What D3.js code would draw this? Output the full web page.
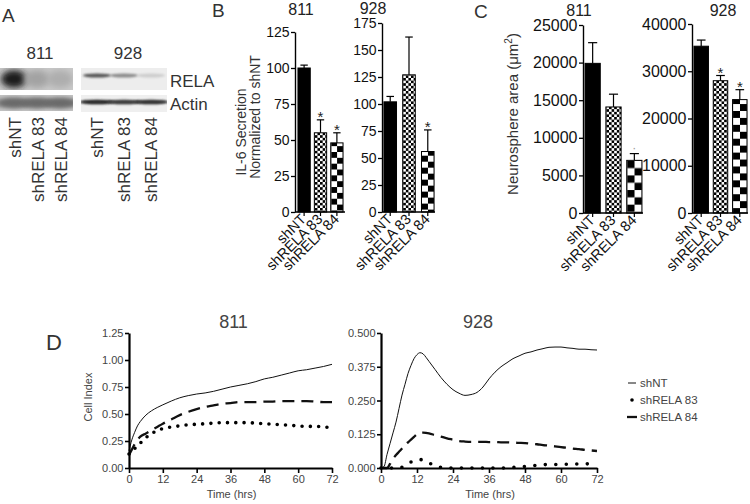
<!DOCTYPE html>
<html><head><meta charset="utf-8">
<script src="https://cdn.jsdelivr.net/npm/d3@7"></script>
<style>body{margin:0;background:#fff}svg{display:block}</style>
</head><body>
<svg id="c" width="750" height="504"></svg>
<script>
// ---------------- DATA ----------------
const categories = ["shNT", "shRELA 83", "shRELA 84"];
const cellLines = ["811", "928"];

// Panel A (western blot band intensities, relative)
const relaBand811 = [1.0, 0.22, 0.16];
const actinBand811 = [1.0, 1.0, 1.0];
const relaBand928 = [0.85, 0.55, 0.18];
const actinBand928 = [1.0, 0.9, 0.95];

// Panel B: IL-6 secretion normalized to shNT
const il6_811 = [100, 55, 48];
const il6_811_err = [2, 9, 7];
const il6_811_sig = ["", "*", "*"];
const il6_928 = [102, 127, 56];
const il6_928_err = [5, 35, 20];
const il6_928_sig = ["", "", "*"];
const il6_811_ticks = [0, 25, 50, 75, 100, 125];
const il6_928_ticks = [0, 25, 50, 75, 100, 125, 150, 175];

// Panel C: neurosphere area (um^2)
const area_811 = [19900, 14100, 7000];
const area_811_err = [2750, 1700, 900];
const area_811_sig = ["", "", "·"];
const area_928 = [35300, 28000, 24000];
const area_928_err = [1300, 1100, 2100];
const area_928_sig = ["", "*", "*"];
const area_811_ticks = [0, 5000, 10000, 15000, 20000, 25000];
const area_928_ticks = [0, 10000, 20000, 30000, 40000];

// Panel D: cell index over time
const timeTicks = [0, 12, 24, 36, 48, 60, 72];
const ci811_ticks = [0, 0.25, 0.5, 0.75, 1.0, 1.25];
const ci928_ticks = [0, 0.125, 0.25, 0.375, 0.5];
const t811 = [0,1,2,3,4,6,8,10,12,15,18,21,24,27,30,33,36,39,42,45,48,51,54,57,60,63,66,69,72];
const ci811_shNT = [0.16,0.26,0.33,0.39,0.43,0.49,0.53,0.56,0.585,0.62,0.65,0.67,0.685,0.695,0.71,0.73,0.75,0.765,0.78,0.80,0.825,0.84,0.86,0.88,0.90,0.91,0.925,0.94,0.96];
const ci811_sh83 = [0.13,0.16,0.18,0.2,0.23,0.28,0.32,0.345,0.365,0.38,0.39,0.40,0.405,0.41,0.415,0.42,0.42,0.42,0.42,0.415,0.41,0.405,0.40,0.395,0.39,0.385,0.385,0.38,0.375];
const ci811_sh84 = [0.12,0.17,0.22,0.26,0.29,0.32,0.35,0.38,0.41,0.45,0.49,0.52,0.545,0.565,0.58,0.595,0.60,0.61,0.61,0.61,0.615,0.615,0.62,0.62,0.62,0.62,0.615,0.61,0.61];
const t928 = [0,1,2,3,4,5,6,7,8,9,10,11,12,13,14,15,16,18,20,22,24,26,28,30,32,34,36,38,40,42,44,46,48,50,52,54,56,58,60,62,64,66,68,70,72];
const ci928_shNT = [0,0.005,0.05,0.09,0.13,0.17,0.22,0.27,0.31,0.35,0.38,0.405,0.42,0.427,0.423,0.41,0.395,0.365,0.335,0.31,0.29,0.277,0.269,0.272,0.28,0.30,0.33,0.355,0.375,0.39,0.405,0.415,0.425,0.43,0.437,0.442,0.447,0.448,0.448,0.445,0.443,0.44,0.44,0.438,0.437];
const ci928_sh83 = [0,0,0,0,0,0,0,0.003,0.008,0.015,0.022,0.027,0.03,0.031,0.03,0.025,0.019,0.008,0.002,0,0,0,0,0,0,0,0,0,0,0,0.002,0.004,0.006,0.008,0.01,0.012,0.013,0.013,0.013,0.014,0.015,0.015,0.015,0.016,0.016];
const ci928_sh84 = [0,0,0,0.015,0.035,0.048,0.06,0.072,0.085,0.095,0.105,0.115,0.125,0.13,0.131,0.13,0.128,0.122,0.116,0.11,0.105,0.1,0.098,0.097,0.097,0.097,0.096,0.096,0.095,0.095,0.094,0.093,0.092,0.09,0.088,0.085,0.083,0.08,0.077,0.075,0.072,0.07,0.067,0.065,0.063];

// ---------------- DRAW ----------------
const F = '"Liberation Sans", Arial, Helvetica, sans-serif';
const svg = d3.select("#c").attr("font-family", F);
const defs = svg.append("defs");

function blurFilter(id, sd) {
  defs.append("filter").attr("id", id).attr("x", "-60%").attr("y", "-60%").attr("width", "220%").attr("height", "220%")
    .append("feGaussianBlur").attr("stdDeviation", sd);
}
blurFilter("b3", 3); blurFilter("b25", 2.3); blurFilter("b1", 1.1); blurFilter("b07", 0.8);

function label(x, y, txt, size, opts = {}) {
  return svg.append("text").attr("x", x).attr("y", y).attr("font-size", size)
    .attr("text-anchor", opts.anchor || "start").attr("fill", opts.fill || "#111").text(txt);
}

// ---- Panel A ----
label(2, 22, "A", 19, {fill: "#333"});
label(40, 59, cellLines[0], 17, {anchor: "middle", fill: "#333"});
label(128, 59, cellLines[1], 17, {anchor: "middle", fill: "#333"});
const lanes811 = d3.scalePoint().domain(categories).range([14, 60]);
const lanes928 = d3.scalePoint().domain(categories).range([97, 151]);

function blot(id, x0, x1, y0, y1, bg, lanes, vals, darkColor, cy, rx, ry, filt, connect) {
  const cp = defs.append("clipPath").attr("id", id);
  cp.append("rect").attr("x", x0).attr("y", y0).attr("width", x1 - x0).attr("height", y1 - y0);
  const g = svg.append("g").attr("clip-path", `url(#${id})`);
  g.append("rect").attr("x", x0).attr("y", y0).attr("width", x1 - x0).attr("height", y1 - y0).attr("fill", bg);
  if (connect) {
    g.append("rect").attr("x", x0 - 5).attr("y", cy - connect.h / 2).attr("width", x1 - x0 + 10).attr("height", connect.h)
      .attr("fill", connect.c).attr("filter", `url(#${filt})`);
  }
  const ci = d3.interpolateRgb(bg, darkColor);
  categories.forEach((c, i) => {
    g.append("ellipse").attr("cx", lanes(c)).attr("cy", cy).attr("rx", rx).attr("ry", ry)
      .attr("fill", ci(vals[i])).attr("filter", `url(#${filt})`);
  });
}
blot("ra", 0, 73, 68, 90, "#c9c9c9", lanes811, relaBand811, "#1e1e1e", 79, 13, 9, "b3");
blot("aa", 0, 73, 95, 111, "#c4c4c4", lanes811, actinBand811, "#6a6a6a", 103, 15, 5, "b25", {h: 7, c: "#8a8a8a"});
blot("rb", 81, 167, 68, 90, "#ededed", lanes928, relaBand928, "#3a3a3a", 75.5, 14, 2, "b1");
blot("ab", 81, 167, 95, 112, "#efefef", lanes928, actinBand928, "#2a2a2a", 102, 16, 2.3, "b07", {h: 2, c: "#777"});
label(170, 87, "RELA", 17, {fill: "#333"});
label(170, 110, "Actin", 17, {fill: "#333"});
categories.forEach(c => {
  svg.append("text").attr("transform", `translate(${lanes811(c) + 7},117) rotate(-90)`)
    .attr("text-anchor", "end").attr("font-size", 17).attr("fill", "#333").text(c);
  svg.append("text").attr("transform", `translate(${lanes928(c) + 6},117) rotate(-90)`)
    .attr("text-anchor", "end").attr("font-size", 17).attr("fill", "#333").text(c);
});

// ---- Bar panels (B, C) ----
let patCount = 0;
function checker(x, size) {
  const id = "p" + (patCount++);
  const p = defs.append("pattern").attr("id", id).attr("patternUnits", "userSpaceOnUse")
    .attr("x", x).attr("y", 0).attr("width", size * 2).attr("height", size * 2);
  p.append("rect").attr("width", size * 2).attr("height", size * 2).attr("fill", "#fff");
  p.append("rect").attr("width", size).attr("height", size).attr("fill", "#000");
  p.append("rect").attr("x", size).attr("y", size).attr("width", size).attr("height", size).attr("fill", "#000");
  return `url(#${id})`;
}

function barPanel(o) {
  const g = svg.append("g");
  const y = d3.scaleLinear().domain([0, o.max]).range([o.yb, o.yt]);
  const x = d3.scaleBand().domain(categories).range([o.x0 + 1, o.x1]).paddingInner(o.pi).paddingOuter(o.po);
  const bw = x.bandwidth();
  categories.forEach((c, i) => {
    const bx = x(c), v = o.vals[i], e = o.errs[i];
    const fill = i === 0 ? "#000" : (i === 1 ? checker(bx + 0.5, 2.6) : checker(bx + 0.5, bw / 2 - 0.3));
    const cx = bx + bw / 2;
    // error bar (upper)
    g.append("line").attr("x1", cx).attr("x2", cx).attr("y1", y(v)).attr("y2", y(v + e)).attr("stroke", "#000").attr("stroke-width", 1.2);
    g.append("line").attr("x1", cx - bw * 0.3).attr("x2", cx + bw * 0.3).attr("y1", y(v + e)).attr("y2", y(v + e)).attr("stroke", "#000").attr("stroke-width", 1.2);
    g.append("rect").attr("x", bx).attr("y", y(v)).attr("width", bw).attr("height", o.yb - y(v))
      .attr("fill", fill).attr("stroke", "#000").attr("stroke-width", 1);
    if (o.sig[i] === "*") {
      g.append("text").attr("x", cx).attr("y", y(v + e) + 2).attr("text-anchor", "middle")
        .attr("font-size", 15).attr("fill", "#222").text(o.sig[i]);
    } else if (o.sig[i]) {
      g.append("text").attr("x", cx).attr("y", y(v + e) - 2).attr("text-anchor", "middle")
        .attr("font-size", 12).attr("fill", "#999").text(o.sig[i]);
    }
    // x tick + label
    g.append("line").attr("x1", cx).attr("x2", cx).attr("y1", o.yb).attr("y2", o.yb + 4).attr("stroke", "#000").attr("stroke-width", 1.2);
    g.append("text").attr("transform", `translate(${cx + o.lx},${o.yb + o.ly}) rotate(-45)`)
      .attr("text-anchor", "end").attr("font-size", o.lfs).attr("fill", "#111").text(c);
  });
  // x axis line
  g.append("line").attr("x1", o.x0).attr("x2", o.x1).attr("y1", o.yb).attr("y2", o.yb).attr("stroke", "#000").attr("stroke-width", 1.4);
  // y axis
  const ax = g.append("g").attr("transform", `translate(${o.x0},0)`)
    .call(d3.axisLeft(y).tickValues(o.ticks).tickFormat(d3.format("d")).tickSize(4).tickSizeOuter(0).tickPadding(1.5));
  ax.attr("font-family", F).attr("font-size", o.fs);
  ax.select(".domain").attr("stroke-width", 1.4);
  ax.selectAll(".tick line").attr("stroke-width", 1.3);
  ax.selectAll(".tick text").attr("fill", "#111");
  label(o.tx, o.ty, o.title, 16, {anchor: "middle", fill: "#222"});
}

// Panel B
label(212, 17, "B", 19, {fill: "#333"});
svg.append("text").attr("transform", "translate(246,132) rotate(-90)").attr("text-anchor", "middle").attr("font-size", 14).attr("fill", "#333").text("IL-6 Secretion");
svg.append("text").attr("transform", "translate(260,117) rotate(-90)").attr("text-anchor", "middle").attr("font-size", 14).attr("fill", "#333").text("Normalized to shNT");
barPanel({vals: il6_811, errs: il6_811_err, sig: il6_811_sig, ticks: il6_811_ticks, max: 125,
  x0: 295, x1: 345, yt: 32, yb: 212, pi: 0.25, po: 0.12, fs: 14, lfs: 14.5, lx: 3, ly: 8,
  title: cellLines[0], tx: 301, ty: 15});
barPanel({vals: il6_928, errs: il6_928_err, sig: il6_928_sig, ticks: il6_928_ticks, max: 175,
  x0: 382, x1: 435, yt: 23, yb: 212, pi: 0.33, po: 0.05, fs: 14, lfs: 14.5, lx: 3, ly: 8,
  title: cellLines[1], tx: 373, ty: 14});

// Panel C
label(474, 18, "C", 19, {fill: "#333"});
const yl = svg.append("text").attr("transform", "translate(518,114) rotate(-90)").attr("text-anchor", "middle").attr("font-size", 15).attr("fill", "#333");
yl.append("tspan").text("Neurosphere area (\u03bcm");
yl.append("tspan").attr("font-size", 10).attr("dy", -6).text("2");
yl.append("tspan").attr("dy", 6).text(")");
barPanel({vals: area_811, errs: area_811_err, sig: area_811_sig, ticks: area_811_ticks, max: 25000,
  x0: 583, x1: 643, yt: 25, yb: 213, pi: 0.27, po: 0.05, fs: 16, lfs: 14.5, lx: 3, ly: 8,
  title: cellLines[0], tx: 579, ty: 16});
barPanel({vals: area_928, errs: area_928_err, sig: area_928_sig, ticks: area_928_ticks, max: 40000,
  x0: 692, x1: 748, yt: 24, yb: 213, pi: 0.25, po: 0.05, fs: 16, lfs: 14.5, lx: 3, ly: 8,
  title: cellLines[1], tx: 723, ty: 16});

// ---- Panel D ----
label(46, 350, "D", 22, {fill: "#333"});
function linePanel(o) {
  const x = d3.scaleLinear().domain([0, 72]).range([o.x0, o.x1]);
  const y = d3.scaleLinear().domain([0, o.max]).range([o.yb, o.yt]);
  const line = d3.line().x((d, i) => x(o.t[i])).y(d => y(d)).curve(d3.curveMonotoneX);
  svg.append("path").datum(o.shNT).attr("d", line).attr("fill", "none").attr("stroke", "#111").attr("stroke-width", 1);
  svg.append("path").datum(o.sh84).attr("d", line).attr("fill", "none").attr("stroke", "#111")
    .attr("stroke-width", 2.3).attr("stroke-dasharray", "12,7");
  svg.append("path").datum(o.sh83).attr("d", line).attr("fill", "none").attr("stroke", "#000")
    .attr("stroke-width", 3.6).attr("stroke-linecap", "round").attr("stroke-dasharray", `0,${o.dot}`);
  const ay = svg.append("g").attr("transform", `translate(${o.x0},0)`)
    .call(d3.axisLeft(y).tickValues(o.ticks).tickFormat(d3.format(o.fmt)).tickSize(4).tickSizeOuter(0).tickPadding(1.5));
  const axx = svg.append("g").attr("transform", `translate(0,${o.yb})`)
    .call(d3.axisBottom(x).tickValues(timeTicks).tickSize(5).tickSizeOuter(0).tickPadding(2));
  [ay, axx].forEach(a => {
    a.attr("font-family", F).attr("font-size", 11);
    a.select(".domain").attr("stroke-width", 2.2);
    a.selectAll(".tick line").attr("stroke-width", 1.6);
    a.selectAll(".tick text").attr("fill", "#444");
  });
  label((o.x0 + o.x1) / 2 + o.tdx, 328, o.title, 18, {anchor: "middle", fill: "#444"});
  label((o.x0 + o.x1) / 2 + 1, 498, "Time (hrs)", 11, {anchor: "middle", fill: "#444"});
}
linePanel({t: t811, shNT: ci811_shNT, sh83: ci811_sh83, sh84: ci811_sh84, max: 1.25, ticks: ci811_ticks, fmt: ".2f",
  x0: 129, x1: 332, yt: 333, yb: 468, dot: 8.3, title: cellLines[0], tdx: 3});
linePanel({t: t928, shNT: ci928_shNT, sh83: ci928_sh83, sh84: ci928_sh84, max: 0.5, ticks: ci928_ticks, fmt: ".3f",
  x0: 381, x1: 597, yt: 333, yb: 468, dot: 10.5, title: cellLines[1], tdx: -11});
svg.append("text").attr("transform", "translate(92,397) rotate(-90)").attr("text-anchor", "middle")
  .attr("font-size", 11).attr("fill", "#444").text("Cell Index");

// Legend
const legY = d3.scalePoint().domain(categories).range([383, 417]);
svg.append("line").attr("x1", 628).attr("x2", 636).attr("y1", legY("shNT")).attr("y2", legY("shNT")).attr("stroke", "#111").attr("stroke-width", 1);
svg.append("circle").attr("cx", 632).attr("cy", legY("shRELA 83")).attr("r", 1.8).attr("fill", "#000");
svg.append("line").attr("x1", 627).attr("x2", 637).attr("y1", legY("shRELA 84")).attr("y2", legY("shRELA 84")).attr("stroke", "#111").attr("stroke-width", 2.3);
categories.forEach(c => label(640, legY(c) + 4, c, 11.5, {fill: "#444"}));
</script>
</body></html>
